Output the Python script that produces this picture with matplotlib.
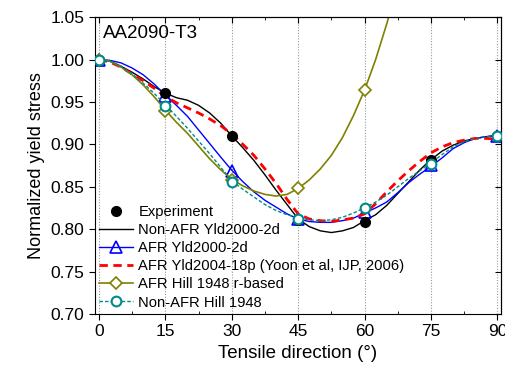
"""
Normalized yield stress vs tensile direction for AA2090-T3.
"""

import matplotlib
matplotlib.use("Agg")
import matplotlib.pyplot as plt
from matplotlib.ticker import MultipleLocator

plt.rcParams["font.family"] = ["Liberation Sans", "DejaVu Sans"]

# model curves, read every 2.5 degrees
ANGLES = [0, 2.5, 5, 7.5, 10, 12.5, 15, 17.5, 20, 22.5, 25, 27.5, 30, 32.5, 35, 37.5,
          40, 42.5, 45, 47.5, 50, 52.5, 55, 57.5, 60, 62.5, 65, 67.5, 70, 72.5, 75,
          77.5, 80, 82.5, 85, 87.5, 90]
NONAFR_YLD2000 = [1.000, 0.998, 0.992, 0.985, 0.977, 0.968, 0.9605, 0.955, 0.952, 0.946,
                  0.937, 0.925, 0.910, 0.896, 0.881, 0.864, 0.846, 0.829, 0.812, 0.803,
                  0.798, 0.796, 0.798, 0.802, 0.810, 0.817, 0.828, 0.842, 0.856, 0.870,
                  0.882, 0.892, 0.899, 0.904, 0.907, 0.909, 0.910]
AFR_YLD2000 = [1.000, 0.999, 0.996, 0.990, 0.982, 0.971, 0.958, 0.946, 0.933, 0.917,
               0.901, 0.885, 0.8695, 0.856, 0.844, 0.834, 0.826, 0.818, 0.812, 0.809,
               0.808, 0.808, 0.810, 0.813, 0.819, 0.825, 0.832, 0.843, 0.855, 0.865,
               0.874, 0.884, 0.895, 0.902, 0.907, 0.909, 0.911]
AFR_YLD2004 = [1.000, 0.997, 0.991, 0.983, 0.975, 0.966, 0.9565, 0.949, 0.943, 0.937,
               0.930, 0.922, 0.912, 0.900, 0.887, 0.871, 0.854, 0.835, 0.818, 0.812,
               0.810, 0.809, 0.811, 0.813, 0.818, 0.830, 0.844, 0.857, 0.869, 0.880,
               0.890, 0.897, 0.902, 0.905, 0.907, 0.907, 0.906]
NONAFR_HILL = [1.000, 0.998, 0.992, 0.983, 0.972, 0.960, 0.9466, 0.933, 0.919, 0.904,
               0.889, 0.873, 0.857, 0.847, 0.838, 0.829, 0.822, 0.817, 0.8135, 0.811,
               0.810, 0.811, 0.814, 0.819, 0.825, 0.832, 0.840, 0.850, 0.860, 0.869,
               0.878, 0.888, 0.897, 0.903, 0.907, 0.909, 0.910]
HILL_R_ANGLES = [0, 2.5, 5, 7.5, 10, 12.5, 15, 17.5, 20, 22.5, 25, 27.5, 30, 32.5, 35,
                 37.5, 40, 42.5, 45, 47.5, 50, 52.5, 55, 57.5, 60, 62.5, 65, 67.5, 70]
AFR_HILL_R = [1.000, 0.998, 0.991, 0.982, 0.970, 0.956, 0.9405, 0.926, 0.913, 0.898,
              0.883, 0.870, 0.859, 0.851, 0.845, 0.841, 0.839, 0.841, 0.848, 0.858,
              0.871, 0.887, 0.908, 0.934, 0.964, 1.000, 1.042, 1.088, 1.140]

# markers at the tested directions
TEST_ANGLES = [0, 15, 30, 45, 60, 75, 90]
EXPERIMENT = [1.000, 0.9605, 0.910, 0.811, 0.809, 0.881, 0.910]
AFR_YLD2000_PTS = [1.000, 0.957, 0.868, 0.812, 0.820, 0.876, 0.910]
NONAFR_HILL_PTS = [1.000, 0.945, 0.856, 0.812, 0.825, 0.877, 0.910]
HILL_R_PT_ANGLES = [0, 15, 30, 45, 60]
AFR_HILL_R_PTS = [1.000, 0.9395, 0.858, 0.848, 0.9636]

OLIVE = "#808000"
TEAL = "#008b8b"

fig = plt.figure(figsize=(5.05, 3.72), dpi=100)
ax = fig.add_axes([0.188, 0.156, 0.804, 0.798])

for x in TEST_ANGLES:
    ax.axvline(x, color="#999999", lw=0.8, ls=(0, (1, 1.5)), zorder=0)

ax.plot(TEST_ANGLES, EXPERIMENT, "o", color="black", ms=7, zorder=6, label="Experiment")
ax.plot(ANGLES, NONAFR_YLD2000, "-", color="black", lw=1.0, label="Non-AFR Yld2000-2d")

ax.plot(ANGLES, AFR_YLD2000, "-", color="blue", lw=1.0)
ax.plot(TEST_ANGLES, AFR_YLD2000_PTS, "^", mfc="none", mec="blue", ms=8, mew=1.2)
blue_h, = ax.plot([], [], "-^", color="blue", mfc="none", ms=8, mew=1.2, lw=1.0)

red_h, = ax.plot(ANGLES, AFR_YLD2004, "--", color="red", lw=2.0, dashes=(3, 2))

ax.plot(HILL_R_ANGLES, AFR_HILL_R, "-", color=OLIVE, lw=1.2)
ax.plot(HILL_R_PT_ANGLES, AFR_HILL_R_PTS, "D", mfc="white", mec=OLIVE, ms=6, mew=1.2)
olive_h, = ax.plot([], [], "-D", color=OLIVE, mfc="white", ms=6, mew=1.2, lw=1.2)

ax.plot(ANGLES, NONAFR_HILL, "--", color=TEAL, lw=1.0, dashes=(2.5, 1.5))
ax.plot(TEST_ANGLES, NONAFR_HILL_PTS, "o", mfc="white", mec=TEAL, ms=7, mew=1.5, zorder=7)
teal_h, = ax.plot([], [], "--o", color=TEAL, mfc="white", ms=7, mew=1.5, lw=1.0, dashes=(2.5, 1.5))

handles, _ = ax.get_legend_handles_labels()
handles = handles[:2] + [blue_h, red_h, olive_h, teal_h]
labels = ["Experiment", "Non-AFR Yld2000-2d", "AFR Yld2000-2d",
          "AFR Yld2004-18p (Yoon et al, IJP, 2006)", "AFR Hill 1948 r-based",
          "Non-AFR Hill 1948"]
ax.legend(handles, labels, loc="lower left", frameon=False, fontsize=10.6,
          handlelength=2.3, handletextpad=0.35, labelspacing=0.28,
          borderaxespad=0.1, borderpad=0.2, numpoints=1)

ax.set_xlim(-0.9, 90.8)
ax.set_ylim(0.70, 1.05)
ax.xaxis.set_major_locator(MultipleLocator(15))
ax.xaxis.set_minor_locator(MultipleLocator(7.5))
ax.yaxis.set_major_locator(MultipleLocator(0.05))
ax.yaxis.set_major_formatter(plt.FormatStrFormatter("%.2f"))
ax.tick_params(which="major", direction="out", length=4, labelsize=12.5)
ax.tick_params(which="minor", direction="in", length=2)

top = ax.secondary_xaxis("top")
top.xaxis.set_major_locator(MultipleLocator(15))
top.xaxis.set_minor_locator(MultipleLocator(7.5))
top.tick_params(which="major", direction="in", length=4, labeltop=False)
top.tick_params(which="minor", direction="in", length=2)
right = ax.secondary_yaxis("right")
right.yaxis.set_major_locator(MultipleLocator(0.05))
right.tick_params(direction="in", length=4, labelright=False)

ax.text(0.02, 0.975, "AA2090-T3", transform=ax.transAxes, fontsize=13.5, va="top", ha="left")
ax.set_xlabel("Tensile direction (°)", fontsize=13.5)
ax.set_ylabel("Normalized yield stress", fontsize=13)

plt.savefig("out.png", dpi=100)
plt.close(fig)
